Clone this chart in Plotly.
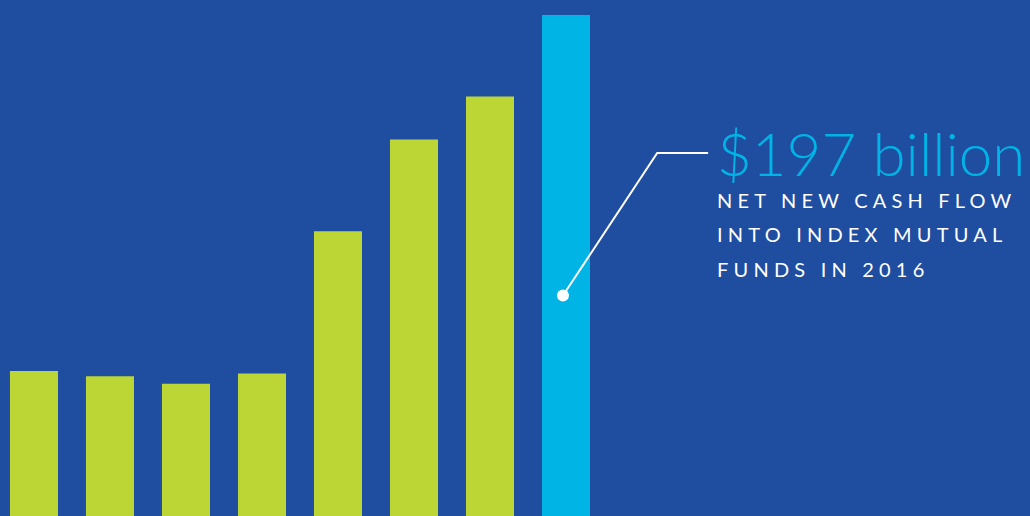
import plotly.graph_objects as go

# Net new cash flow into index mutual funds, billions of US dollars
years = ["2009", "2010", "2011", "2012", "2013", "2014", "2015", "2016"]
net_flow = [57, 55, 52, 56, 112, 148, 165, 197]
caption_lines = ["NET NEW CASH FLOW", "INTO INDEX MUTUAL", "FUNDS IN 2016"]

BG = "#1F4DA0"
GREEN = "#BCD636"
CYAN = "#00B4E6"

bar_colors = [GREEN] * (len(years) - 1) + [CYAN]

fig = go.Figure(
    go.Bar(
        x=list(range(len(years))),
        y=net_flow,
        marker=dict(color=bar_colors, line=dict(width=0)),
        width=0.632,
        hoverinfo="skip",
        customdata=years,
    )
)

# Callout on the 2016 bar
hi = len(years) - 1
dot_x = hi - 0.04
dot_y = net_flow[hi] * 0.44
elbow_x, elbow_y = 8.2, net_flow[hi] * 0.7245
end_x = 8.87

fig.add_shape(
    type="path",
    xref="x", yref="y",
    path=f"M {dot_x} {dot_y} L {elbow_x} {elbow_y} L {end_x} {elbow_y}",
    line=dict(color="white", width=2),
)
fig.add_trace(
    go.Scatter(
        x=[dot_x], y=[dot_y], mode="markers",
        marker=dict(color="white", size=12, line=dict(width=0)),
        hoverinfo="skip",
    )
)

fig.add_annotation(
    x=8.965, y=elbow_y, xref="x", yref="y",
    xanchor="left", yanchor="middle",
    text=f"${net_flow[hi]} billion",
    showarrow=False,
    font=dict(family="Lato", size=60, color=CYAN, weight=300),
)

caption_tops = [0.6395, 0.5727, 0.5058]
for line, top in zip(caption_lines, caption_tops):
    fig.add_annotation(
        x=8.965, y=top, xref="x", yref="paper",
        xanchor="left", yanchor="top", align="left",
        text=line,
        showarrow=False,
        font=dict(family="Lato", size=20, color="white"),
    )

fig.update_layout(
    width=1030, height=516,
    margin=dict(l=0, r=0, t=0, b=0),
    paper_bgcolor=BG, plot_bgcolor=BG,
    showlegend=False,
    xaxis=dict(range=[-0.447, 13.105], visible=False, fixedrange=True),
    yaxis=dict(range=[0, 202.9], visible=False, fixedrange=True),
)

# Tracked capitals for the caption lines
spacing_js = """
var gd = document.getElementById('{plot_id}');
var caps = ['NET NEW', 'INTO INDEX', 'FUNDS IN'];
gd.querySelectorAll('text.annotation-text').forEach(function (t) {
  caps.forEach(function (c) {
    if (t.textContent.indexOf(c) === 0) { t.style.letterSpacing = '0.26em'; }
  });
});
"""

fig.write_html("out.html", post_script=spacing_js, config={"displayModeBar": False})
